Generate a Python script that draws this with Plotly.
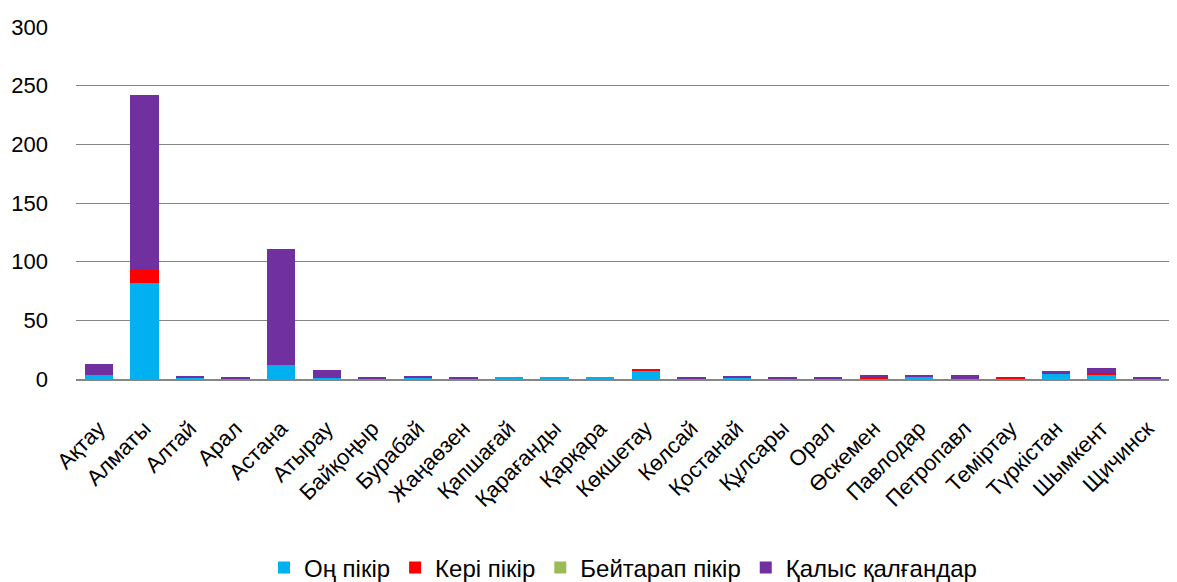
import plotly.graph_objects as go

cities = ["Ақтау", "Алматы", "Алтай", "Арал", "Астана", "Атырау", "Байқоңыр", "Бурабай",
          "Жаңаөзен", "Қапшағай", "Қарағанды", "Қарқара", "Көкшетау", "Көлсай", "Қостанай",
          "Құлсары", "Орал", "Өскемен", "Павлодар", "Петропавл", "Теміртау", "Түркістан",
          "Шымкент", "Щичинск"]
positive = [3, 82, 1, 0, 12, 1, 0, 1, 0, 2, 1, 1, 7, 0, 1, 0, 0, 0, 2, 0, 0, 4, 3, 0]
negative = [0, 11, 0, 0, 0, 0, 0, 0, 0, 0, 0, 0, 1, 0, 0, 0, 0, 2, 0, 0, 2, 0, 2, 0]
neutral = [0] * 24
abstain = [10, 149, 1, 2, 99, 7, 1, 1, 1, 0, 0, 0, 0, 1, 1, 1, 2, 1, 1, 3, 0, 3, 4, 1]

series = [("Оң пікір", positive, "#00B0F0"),
          ("Кері пікір", negative, "#FF0000"),
          ("Бейтарап пікір", neutral, "#9BBB59"),
          ("Қалыс қалғандар", abstain, "#7030A0")]

fig = go.Figure()
for name, vals, color in series:
    fig.add_trace(go.Bar(x=cities, y=vals, name=name, marker_color=color,
                         marker_line_width=0))

# page body has an 8px margin, so the figure is sized/offset to compensate
fig.update_layout(
    barmode="stack",
    bargap=0.38,
    width=1169, height=574,
    margin=dict(l=68, r=7, t=19, b=203, autoexpand=False),
    plot_bgcolor="white", paper_bgcolor="white",
    font=dict(family="Liberation Sans, Arial, sans-serif", color="black"),
    legend=dict(orientation="h", x=0.5, xanchor="center", y=-0.537, yanchor="middle",
                font=dict(size=24), traceorder="normal", itemwidth=30),
    yaxis=dict(range=[0, 300], dtick=50, showgrid=True, gridcolor="#868686", gridwidth=1,
               tickfont=dict(size=22), ticks="", zeroline=False, showline=False,
               automargin=False, ticklabelstandoff=27),
    xaxis=dict(tickangle=-45, tickfont=dict(size=22), showline=True, linecolor="#868686",
               linewidth=2, ticks="", automargin=False, ticklabelstandoff=26),
)
fig.write_html("out.html")
